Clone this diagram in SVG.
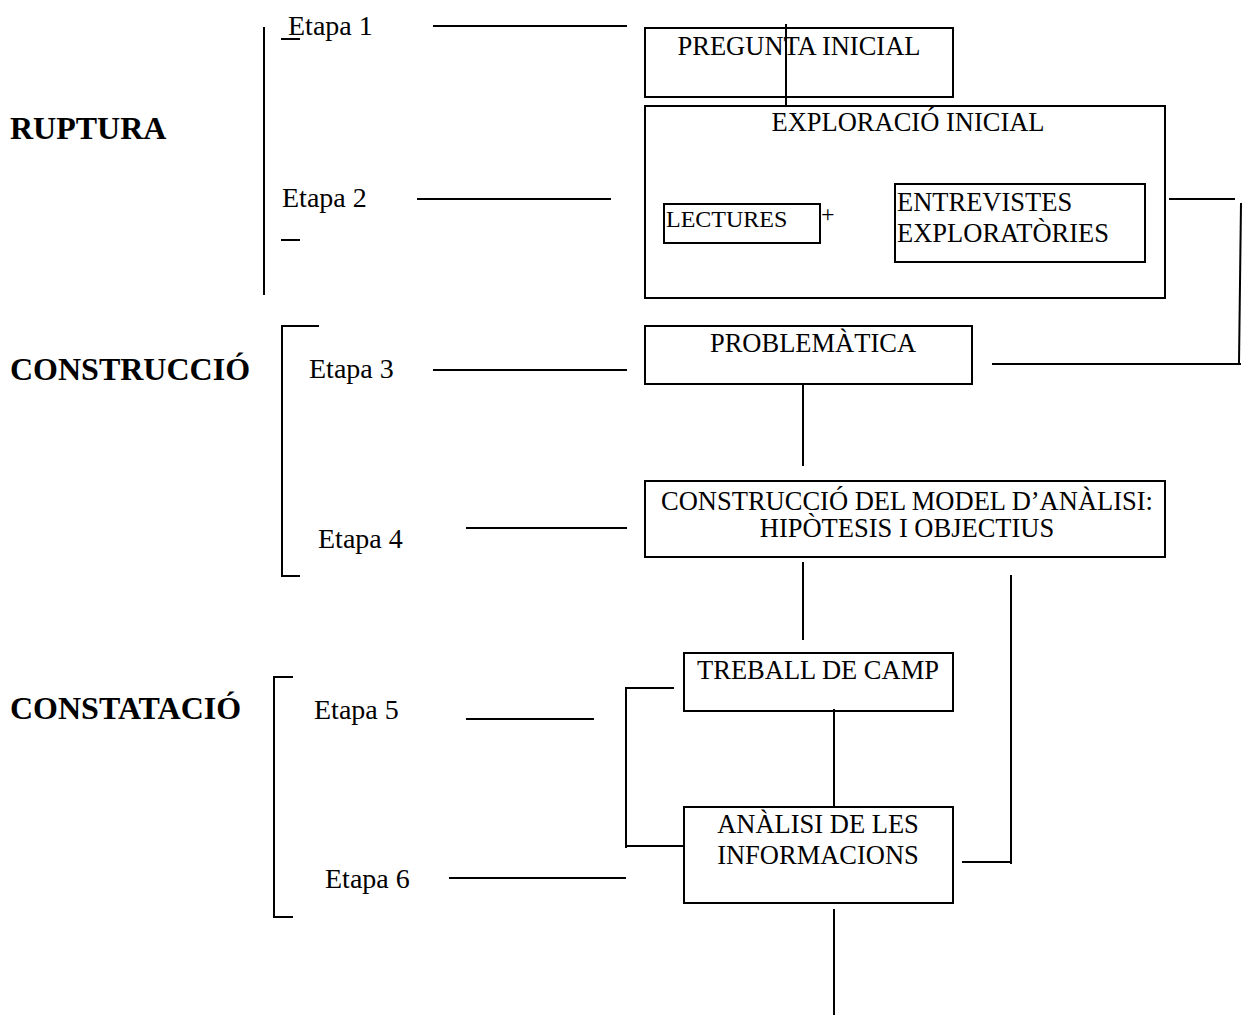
<svg xmlns="http://www.w3.org/2000/svg" width="1248" height="1017" viewBox="0 0 1248 1017">
<style>
.bg{fill:#fff}
.box{fill:none;stroke:#000;stroke-width:2}
.ln{stroke:#000;stroke-width:2;fill:none}
.t{font-family:"Liberation Serif","Times New Roman",serif;font-size:26.5px;fill:#000}
.s{font-size:24px}
.e{font-family:"Liberation Serif","Times New Roman",serif;font-size:28px;fill:#000}
.b{font-family:"Liberation Serif","Times New Roman",serif;font-size:32px;font-weight:bold;fill:#000}
.m{text-anchor:middle}
</style>
<rect class="bg" x="0" y="0" width="1248" height="1017"/>

<g id="phase-labels">
<text class="b" x="10" y="139">RUPTURA</text>
<text class="b" x="10" y="380">CONSTRUCCIÓ</text>
<text class="b" x="10" y="719">CONSTATACIÓ</text>
</g>

<g id="brackets">
<line class="ln" x1="264" y1="27" x2="264" y2="295"/>
<path class="ln" d="M319,326 H282 V576 H300"/>
<path class="ln" d="M293,677 H274 V917 H293"/>
</g>

<g id="stage-labels">
<text class="e" x="288" y="35">Etapa 1</text>
<line class="ln" x1="281" y1="39" x2="300" y2="39"/>
<text class="e" x="282" y="207">Etapa 2</text>
<line class="ln" x1="281" y1="240" x2="300" y2="240"/>
<text class="e" x="309" y="378">Etapa 3</text>
<text class="e" x="318" y="548">Etapa 4</text>
<text class="e" x="314" y="719">Etapa 5</text>
<text class="e" x="325" y="888">Etapa 6</text>
</g>

<g id="pregunta-inicial">
<rect class="box" x="645" y="28" width="308" height="69"/>
<text class="t m" x="799" y="55">PREGUNTA INICIAL</text>
</g>

<g id="exploracio-inicial">
<rect class="box" x="645" y="106" width="520" height="192"/>
<text class="t m" x="908" y="131">EXPLORACIÓ INICIAL</text>
</g>

<g id="lectures">
<rect class="box" x="664" y="204" width="156" height="39"/>
<text class="t s" x="666" y="227">LECTURES</text>
</g>
<text class="t s" x="821" y="222">+</text>

<g id="entrevistes">
<rect class="box" x="895" y="184" width="250" height="78"/>
<text class="t" x="897" y="211">ENTREVISTES</text>
<text class="t" x="897" y="242">EXPLORATÒRIES</text>
</g>

<g id="problematica">
<rect class="box" x="645" y="326" width="327" height="58"/>
<text class="t m" x="813" y="352">PROBLEMÀTICA</text>
</g>

<g id="model-analisi">
<rect class="box" x="645" y="481" width="520" height="76"/>
<text class="t m" x="907" y="510">CONSTRUCCIÓ DEL MODEL D’ANÀLISI:</text>
<text class="t m" x="907" y="537">HIPÒTESIS I OBJECTIUS</text>
</g>

<g id="treball-camp">
<rect class="box" x="684" y="653" width="269" height="58"/>
<text class="t m" x="818" y="679">TREBALL DE CAMP</text>
</g>

<g id="analisi-informacions">
<rect class="box" x="684" y="807" width="269" height="96"/>
<text class="t m" x="818" y="833">ANÀLISI DE LES</text>
<text class="t m" x="818" y="864">INFORMACIONS</text>
</g>

<g id="connectors">
<line class="ln" x1="433" y1="26" x2="627" y2="26"/>
<line class="ln" x1="417" y1="199" x2="611" y2="199"/>
<line class="ln" x1="433" y1="370" x2="627" y2="370"/>
<line class="ln" x1="466" y1="528" x2="627" y2="528"/>
<line class="ln" x1="466" y1="719" x2="594" y2="719"/>
<line class="ln" x1="449" y1="878" x2="626" y2="878"/>
<line class="ln" x1="786" y1="24" x2="786" y2="106"/>
<line class="ln" x1="1169" y1="199" x2="1235" y2="199"/>
<line class="ln" x1="1241" y1="203" x2="1239" y2="364"/>
<line class="ln" x1="992" y1="364" x2="1241" y2="364"/>
<line class="ln" x1="803" y1="385" x2="803" y2="466"/>
<line class="ln" x1="803" y1="562" x2="803" y2="640"/>
<line class="ln" x1="1011" y1="575" x2="1011" y2="864"/>
<line class="ln" x1="962" y1="862" x2="1011" y2="862"/>
<path class="ln" d="M674,688 H626 V848"/>
<line class="ln" x1="626" y1="846" x2="684" y2="846"/>
<line class="ln" x1="834" y1="709" x2="834" y2="806"/>
<line class="ln" x1="834" y1="909" x2="834" y2="1015"/>
</g>
</svg>
